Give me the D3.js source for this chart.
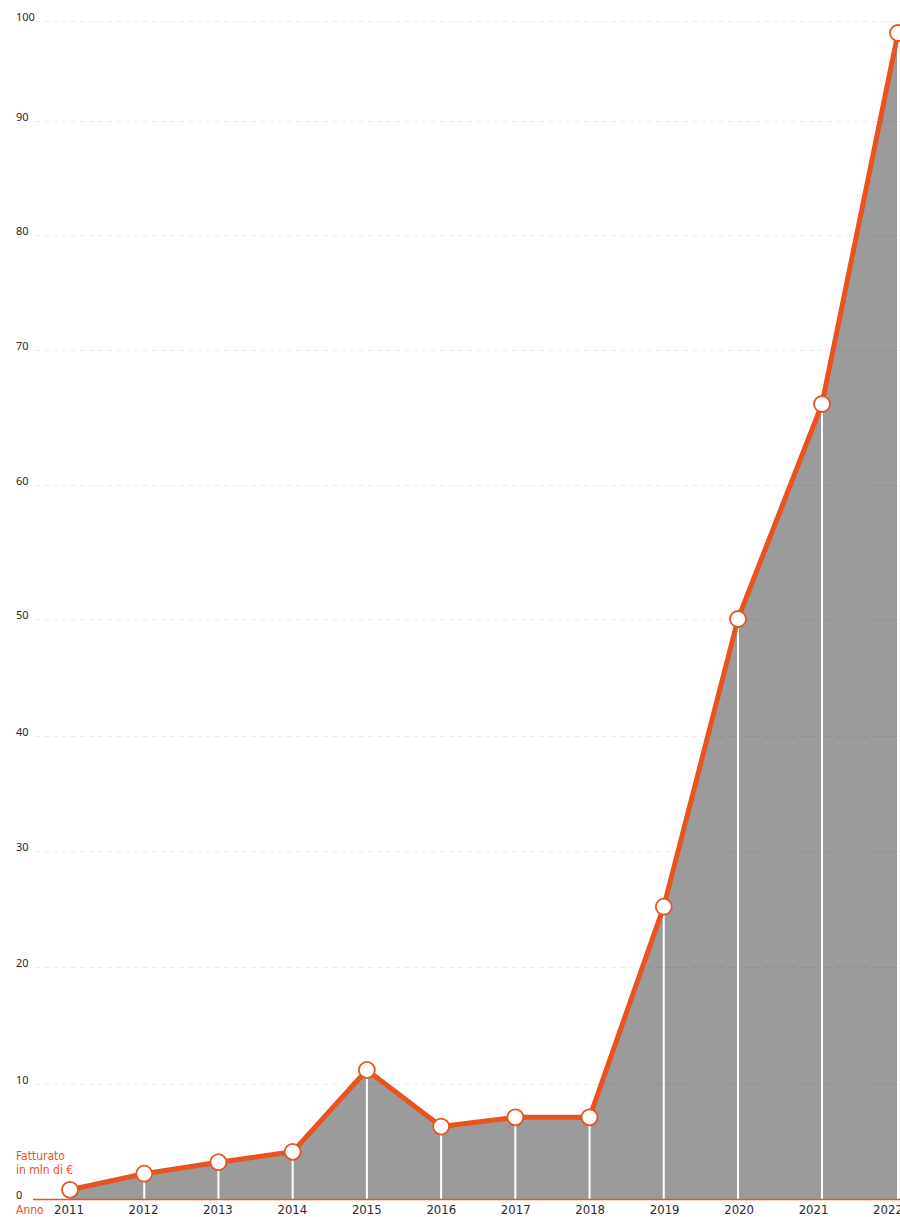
<!DOCTYPE html>
<html>
<head>
<meta charset="utf-8">
<script src="https://cdn.jsdelivr.net/npm/d3@7"></script>
<style>
  html, body { margin: 0; padding: 0; background: #fff; overflow: hidden; }
  svg { display: block; }
  .ytick { font-family: "Noto Sans", "DejaVu Sans", sans-serif; font-size: 11px; fill: #2a2a2a; }
  .xtick { font-family: "Liberation Sans Narrow", "DejaVu Sans Condensed", "Roboto", sans-serif; font-size: 13px; fill: #2a2a2a; }
  .orange-txt { font-family: "Liberation Sans Narrow", "DejaVu Sans Condensed", "Roboto", sans-serif; font-size: 12px; fill: #e9531f; }
</style>
</head>
<body>
<svg id="chart" width="900" height="1217"></svg>
<script>
// ---- data ----
const years = [2011, 2012, 2013, 2014, 2015, 2016, 2017, 2018, 2019, 2020, 2021, 2022];
const revenue = [0.8, 2.2, 3.2, 4.1, 11.2, 6.3, 7.1, 7.1, 25.2, 50, 66, 98.8];
const yTicks = [0, 10, 20, 30, 40, 50, 60, 70, 80, 90, 100];
const yLabel = ["Fatturato", "in mln di €"];
const xLabel = "Anno";

const ORANGE = "#e9531f";
const GREY = "#9b9b9b";

const svg = d3.select("#chart");

// piecewise scales reproduce the uneven spacing of the original
const y = d3.scaleLinear()
  .domain(yTicks)
  .range([1199, 1084, 967, 851, 736, 619, 485, 350, 235, 121, 21]);

const xLab = d3.scaleLinear().domain([2011, 2022]).range([69, 888]);
const x = d3.scaleLinear()
  .domain([2011, 2020, 2021, 2022])
  .range([70, 738, 822, 898]);

const data = years.map((yr, i) => ({ year: yr, value: revenue[i] }));

// area
const area = d3.area()
  .x(d => x(d.year))
  .y0(y(0))
  .y1(d => y(d.value));
svg.append("path")
  .datum(data)
  .attr("d", area)
  .attr("fill", GREY);

// gridlines (drawn over the area, semi-transparent)
svg.append("g")
  .selectAll("line")
  .data(yTicks.filter(t => t > 0))
  .join("line")
  .attr("x1", 35)
  .attr("x2", 900)
  .attr("y1", d => y(d) + 0.5)
  .attr("y2", d => y(d) + 0.5)
  .attr("stroke", "rgba(0,0,0,0.07)")
  .attr("stroke-width", 1)
  .attr("stroke-dasharray", "5,4");

// y tick labels
svg.append("g")
  .selectAll("text")
  .data(yTicks)
  .join("text")
  .attr("class", "ytick")
  .attr("x", 16)
  .attr("y", d => y(d))
  .text(d => d);

// white vertical drop lines
svg.append("g")
  .selectAll("line")
  .data(data)
  .join("line")
  .attr("x1", d => x(d.year))
  .attr("x2", d => x(d.year))
  .attr("y1", d => y(d.value))
  .attr("y2", y(0))
  .attr("stroke", "#fff")
  .attr("stroke-width", 2);

// baseline
svg.append("line")
  .attr("x1", 33)
  .attr("x2", 900)
  .attr("y1", y(0) + 0.5)
  .attr("y2", y(0) + 0.5)
  .attr("stroke", ORANGE)
  .attr("stroke-width", 1.5);

// line
const line = d3.line()
  .x(d => x(d.year))
  .y(d => y(d.value));
svg.append("path")
  .datum(data)
  .attr("d", line)
  .attr("fill", "none")
  .attr("stroke", ORANGE)
  .attr("stroke-width", 5)
  .attr("stroke-linejoin", "round")
  .attr("stroke-linecap", "round");

// points
svg.append("g")
  .selectAll("circle")
  .data(data)
  .join("circle")
  .attr("cx", d => x(d.year))
  .attr("cy", d => y(d.value))
  .attr("r", 8)
  .attr("fill", "#fff")
  .attr("stroke", ORANGE)
  .attr("stroke-width", 1.8);

// x labels
svg.append("g")
  .selectAll("text")
  .data(years)
  .join("text")
  .attr("class", "xtick")
  .attr("x", d => xLab(d))
  .attr("y", 1214)
  .attr("text-anchor", "middle")
  .text(d => d);

// axis titles
svg.append("text")
  .attr("class", "orange-txt")
  .attr("x", 16)
  .attr("y", 1214)
  .text(xLabel);

svg.append("g")
  .selectAll("text")
  .data(yLabel)
  .join("text")
  .attr("class", "orange-txt")
  .attr("x", 16)
  .attr("y", (d, i) => 1160 + i * 14)
  .text(d => d);
</script>
</body>
</html>
